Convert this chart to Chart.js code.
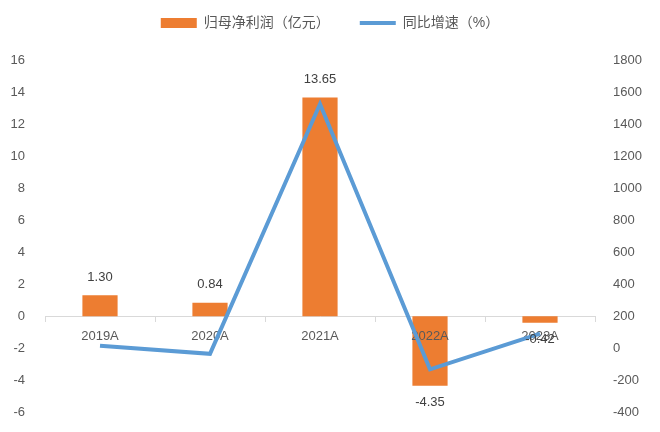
<!DOCTYPE html>
<html><head><meta charset="utf-8">
<script src="https://cdn.jsdelivr.net/npm/chart.js@4.4.0/dist/chart.umd.min.js"></script>
<style>html,body{margin:0;padding:0;background:#fff}#wrap{width:660px;height:432px;position:relative}</style>
</head><body><div id="wrap"><canvas id="c"></canvas></div>
<script>
const categories = ['2019A', '2020A', '2021A', '2022A', '2023A'];
const profit = [1.30, 0.84, 13.65, -4.35, -0.42];
const growth = [15, -35.4, 1525, -131.9, 90.3];
const seriesNames = ['归母净利润（亿元）', '同比增速（%）'];
const leftRange = [-6, 16, 2];
const rightRange = [-400, 1800, 200];

const FONT = '"Liberation Sans", "Noto Sans CJK SC", sans-serif';
const TXT = '#595959';

const labelPlugin = {
  id: 'barLabels',
  beforeDatasetDraw(chart, args) {
    if (args.index !== 1) return;
    const xs = chart.scales.x, ys = chart.scales.y;
    const ctx = chart.ctx;
    const y0 = ys.getPixelForValue(0);
    ctx.save();
    ctx.font = '13px ' + FONT;
    ctx.fillStyle = TXT;
    ctx.textAlign = 'center';
    ctx.textBaseline = 'middle';
    categories.forEach((c, i) => ctx.fillText(c, xs.getPixelForValue(i), y0 + 20));
    ctx.restore();
  },
  afterDraw(chart) {
    const meta = chart.getDatasetMeta(0);
    const ctx = chart.ctx;
    ctx.save();
    ctx.font = '13px ' + FONT;
    ctx.fillStyle = '#404040';
    ctx.textAlign = 'center';
    ctx.textBaseline = 'middle';
    meta.data.forEach((bar, i) => {
      const v = profit[i];
      const y = v >= 0 ? bar.y - 18 : bar.y + 17;
      ctx.fillText(v.toFixed(2), bar.x, y);
    });
    ctx.restore();
  }
};

const legendFit = {
  id: 'legendFit',
  afterInit(chart) {
    const lg = chart.legend;
    const orig = lg.fit;
    lg.fit = function () { orig.call(this); this.height = 74; };
  }
};

new Chart(document.getElementById('c'), {
  type: 'bar',
  data: {
    labels: categories,
    datasets: [
      { type: 'bar', label: seriesNames[0], data: profit, yAxisID: 'y',
        backgroundColor: '#ED7D31', borderWidth: 0, barPercentage: 0.64, categoryPercentage: 0.5,
        pointStyle: 'rect', order: 1 },
      { type: 'line', label: seriesNames[1], data: growth, yAxisID: 'y1',
        borderColor: '#5B9BD5', backgroundColor: '#5B9BD5', borderWidth: 4, pointRadius: 0,
        pointStyle: 'line', tension: 0, order: 0, borderJoinStyle: 'miter' }
    ]
  },
  options: {
    responsive: true, maintainAspectRatio: false, animation: false,
    layout: { padding: { top: -14, bottom: 14, left: 0, right: 0 } },
    plugins: {
      tooltip: { enabled: false },
      legend: {
        position: 'top',
        labels: {
          usePointStyle: true, pointStyleWidth: 36, boxHeight: 10,
          color: TXT, font: { size: 14, family: FONT }, padding: 30,
          sort: (a, b) => a.datasetIndex - b.datasetIndex
        }
      }
    },
    scales: {
      x: {
        position: { y: 0 },
        grid: { offset: true, drawOnChartArea: false, drawTicks: true, tickLength: 5, color: '#D9D9D9' },
        border: { color: '#D9D9D9' },
        ticks: { color: 'rgba(0,0,0,0)', font: { size: 13, family: FONT }, padding: 12 }
      },
      y: {
        position: 'left', min: leftRange[0], max: leftRange[1],
        ticks: { stepSize: leftRange[2], color: TXT, font: { size: 13, family: FONT }, padding: 12,
                 callback: v => String(v) },
        grid: { display: false }, border: { display: false },
        afterFit(s) { s.width = 45; }
      },
      y1: {
        position: 'right', min: rightRange[0], max: rightRange[1],
        ticks: { stepSize: rightRange[2], color: TXT, font: { size: 13, family: FONT }, padding: 10,
                 callback: v => String(v) },
        grid: { display: false }, border: { display: false },
        afterFit(s) { s.width = 65; }
      }
    }
  },
  plugins: [labelPlugin, legendFit]
});
</script>
</body></html>
